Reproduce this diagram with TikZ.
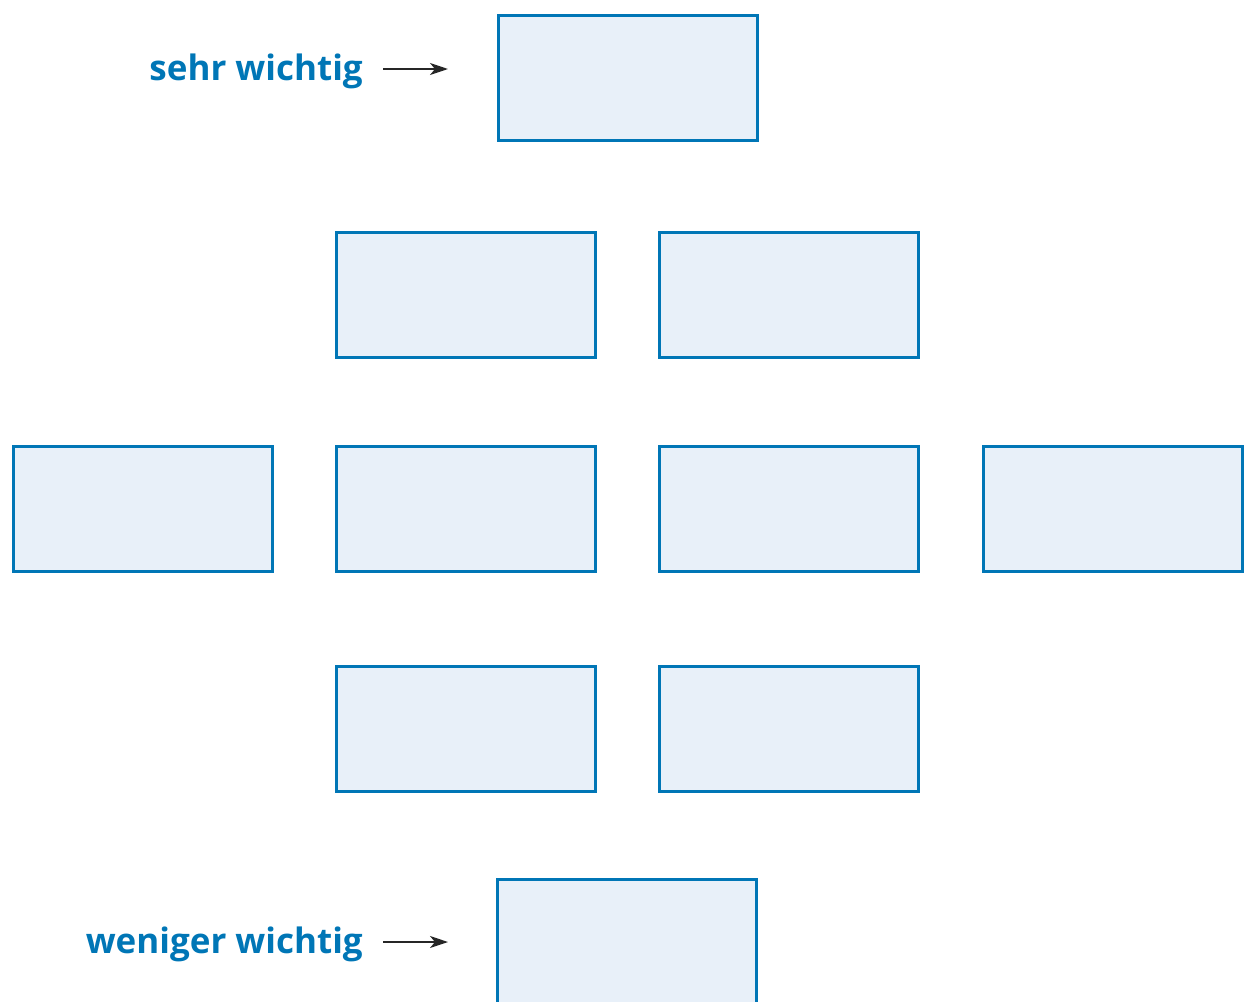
\documentclass[tikz,border=0pt]{standalone}
\usepackage{fontspec}
\setmainfont{Open Sans}
\usetikzlibrary{arrows.meta}
\definecolor{rahmenblau}{RGB}{0,118,182}
\definecolor{feldblau}{RGB}{232,240,249}
\tikzset{
  feld/.style={draw=rahmenblau, fill=feldblau, line width=3pt, minimum width=259pt, minimum height=125pt, inner sep=0pt},
  etikett/.style={text=rahmenblau, font=\bfseries\fontsize{35}{42}\selectfont, inner sep=0pt, anchor=base east},
  pfeil/.style={-{Stealth[length=18pt,width=12pt,inset=5pt]}, line width=2pt, draw=black!85}
}
\begin{document}
\begin{tikzpicture}[x=1pt,y=-1pt]
\useasboundingbox (0,0) rectangle (1244,1001);

% Rangfolge der Felder
\node[feld] (f1) at (627.5,77.5) {};
\foreach \x [count=\i] in {466,789} {\node[feld] (f2\i) at (\x,294.5) {};}
\foreach \x [count=\i] in {142.5,466,789,1112.5} {\node[feld] (f3\i) at (\x,508.5) {};}
\foreach \x [count=\i] in {466,789} {\node[feld] (f4\i) at (\x,728.5) {};}
\node[feld] (f5) at (626.5,941.5) {};

% Beschriftung
\node[etikett] (sehr) at (363,80) {sehr wichtig};
\node[etikett] (weniger) at (363,953) {weniger wichtig};
\coordinate (a1) at (383,69);
\coordinate (b1) at (448,69);
\coordinate (a2) at (383,942);
\coordinate (b2) at (448,942);
\draw[pfeil] (a1) -- (b1);
\draw[pfeil] (a2) -- (b2);

\end{tikzpicture}
\end{document}
